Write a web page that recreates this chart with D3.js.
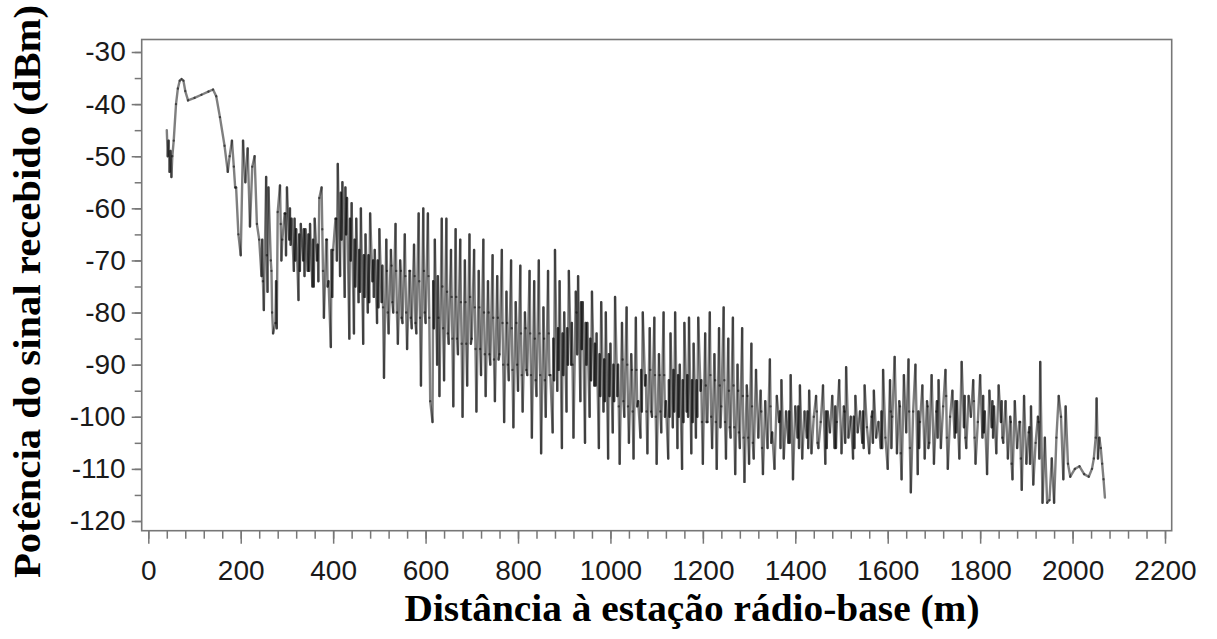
<!DOCTYPE html>
<html>
<head>
<meta charset="utf-8">
<script src="https://cdn.jsdelivr.net/npm/d3@7"></script>
<style>
  body { margin: 0; background: #fff; }
  .tick text { font-family: "Liberation Sans", Arial, sans-serif; fill: #1a1a1a; }
  .tick line { stroke: #777; stroke-width: 1.5; }
</style>
</head>
<body>
<div id="chart"></div>
<script>
// distance (m) and received power (dBm): the spikes
var distancia = [
  40, 42, 44, 46, 48, 50, 52, 55, 60, 64, 68, 72, 76, 80, 86, 100, 115, 130, 140, 147,
  155, 165, 172, 176, 181, 185, 188,
  190, 195, 200, 205, 210, 215, 220, 225, 230, 235,
  240, 245, 250, 255, 260, 265, 270, 275, 280, 285,
  290, 295, 300, 305, 310, 315, 320, 325, 330, 335,
  340, 345, 350, 355, 360, 365, 370, 375, 380, 385,
  390, 395, 400, 405, 410, 415, 420, 425, 430, 435,
  440, 445, 450, 455, 460, 465, 470, 475, 480, 485, 490, 495,
  500, 505, 510, 515, 520, 525, 530, 535, 540, 545, 550, 555, 560, 565, 570, 575,
  580, 585, 590, 595, 600, 605, 610, 615, 620, 625, 630, 635, 640, 645, 650,
  655, 660, 665, 670, 675, 680, 685, 690, 695, 700, 705, 710, 715, 720, 725, 730, 735, 740,
  745, 750, 755, 760, 765, 770, 775, 780, 785, 790, 795, 800, 805, 810, 815, 820, 825,
  830, 835, 840, 845, 850, 855, 860, 865, 870,
  875, 880, 885, 890, 895, 900, 905, 910, 915, 920, 925, 930, 935, 940, 945, 950, 955, 960, 965, 970,
  975, 980, 985, 990, 995, 1000, 1005, 1010, 1015, 1020, 1025, 1030, 1035, 1040, 1045, 1050, 1055, 1060, 1065, 1070, 1075,
  1080, 1085, 1090, 1095, 1100, 1105, 1110, 1115, 1120, 1125, 1130, 1135, 1140, 1145, 1150, 1155, 1160, 1165,
  1170, 1175, 1180, 1185, 1190, 1195, 1200, 1205, 1210, 1215, 1220, 1225, 1230, 1235, 1240, 1245, 1250, 1255,
  1260, 1265, 1270, 1275, 1280, 1285, 1290, 1295, 1300, 1305,
  1310, 1315, 1320, 1325, 1330, 1335, 1340, 1345, 1350, 1355, 1360, 1365, 1370, 1375, 1380, 1385, 1390, 1395, 1400, 1405, 1410, 1415,
  1420, 1425, 1430, 1435, 1440, 1445, 1450, 1455, 1460, 1465, 1470, 1475, 1480, 1485, 1490, 1495, 1500,
  1505, 1510, 1515, 1520, 1525, 1530, 1535, 1540, 1545, 1550, 1555, 1560, 1565, 1570, 1575, 1580, 1585,
  1590, 1595, 1600, 1605, 1610, 1615, 1620, 1625, 1630, 1635, 1640, 1645, 1650, 1655, 1660, 1665, 1670, 1675, 1680, 1685, 1690, 1695, 1700,
  1705, 1710, 1715, 1720, 1725, 1730, 1735, 1740, 1745, 1750, 1755, 1760, 1765, 1770, 1775, 1780,
  1785, 1790, 1795, 1800, 1805, 1810, 1815, 1820, 1825, 1830, 1835, 1840, 1845, 1850, 1855,
  1860, 1865, 1870, 1875, 1880, 1885, 1890, 1895, 1900, 1905, 1910, 1915, 1920, 1925, 1930, 1935, 1940, 1945,
  1950, 1955, 1960, 1965, 1970, 1975, 1980, 1985,
  1990, 1995, 2005, 2015, 2025, 2035, 2042, 2046,
  2050, 2052, 2055, 2058, 2061, 2064, 2067, 2070
];

var potencia = [
  -45, -50, -47, -53, -49, -54, -50, -47, -40, -37, -35.5, -35.2, -35.5, -37.5, -39.3, -38.8, -38.2, -37.6, -37.2, -38.5,
  -42.5, -48, -53, -50, -47, -52, -56,
  -56, -65, -69, -47, -55, -48.5, -63.5, -52, -50, -63,
  -66, -73, -79.5, -54, -56, -70, -84, -82, -60.7, -55.6,
  -66, -61, -56, -66, -62, -72, -64, -77.6, -63, -70,
  -64, -72, -63, -75, -62, -70, -58, -56, -81, -66,
  -74, -86.6, -68, -62, -51.5, -73, -55, -77, -58, -85,
  -59, -84, -62, -78, -60, -86, -65, -80, -61, -74, -68, -82,
  -64, -78, -92.5, -66, -84, -68, -80, -63, -86, -70, -82, -65, -87, -72, -83, -67,
  -84, -61, -94, -60, -82, -61, -97, -101, -66, -90, -96, -62, -93, -62, -86,
  -68, -98, -64, -88, -66, -100, -70, -94, -65, -85, -68, -99, -72, -92, -66, -96, -74, -90,
  -69, -97, -73, -88, -68, -101, -76, -93, -70, -102, -78, -95, -71, -99, -80, -92, -72,
  -104, -74, -96, -70, -107, -79, -100, -72, -92,
  -103, -68, -95, -74, -106, -80, -99, -72, -90, -104, -76, -73, -97, -78, -105, -82, -100, -76, -94, -84,
  -106, -78, -99, -80, -108, -86, -103, -77, -96, -109, -82, -100, -79, -105, -88, -108, -81, -97, -104, -80, -94,
  -107, -83, -100, -81, -109, -88, -103, -80, -97, -108, -84, -102, -80, -106, -90, -110, -82, -99,
  -81, -107, -86, -104, -81, -95, -109, -84, -101, -80, -106, -88, -110, -83, -98, -79, -108, -85,
  -104, -81, -111, -90, -106, -83, -112.5, -94, -109, -86,
  -108, -91, -104, -95, -111, -97, -106, -89, -103, -110, -96, -101, -93, -108, -99, -105, -92, -112, -98, -104, -94, -108,
  -99, -104, -95, -107, -100, -96, -106, -101, -94, -109, -99, -103, -96, -106, -101, -93, -107,
  -98, -90.5, -104, -100, -108, -96, -103, -99, -105, -94, -102, -107, -100, -95, -104, -101, -106,
  -91, -104, -110, -93, -100, -88.5, -107, -97, -112, -92, -103, -89, -114.5, -99, -90, -111, -101, -94, -108, -97, -105, -92, -109,
  -99, -93, -106, -98, -91, -110, -100, -95, -104, -97, -108, -89.5, -102, -106, -96, -100,
  -93, -109, -101, -92, -104, -99, -111, -95, -102, -98, -107, -94, -101, -105, -97,
  -108, -100, -112, -97, -106, -101, -114, -96, -109, -103, -98, -113, -105, -100, -89.5, -116.5, -104, -116.5,
  -116, -108, -116.5, -104, -96, -100, -112, -98,
  -109, -111.5, -110, -109.5, -111, -111.5, -110, -108,
  -104, -96.5, -108, -104, -106, -109, -112, -115.5
];

// the small fast wiggles that make the dark core of the trace
var distNucleo = [
  246.5, 248, 256.5, 258, 266.5, 268, 276.5, 278, 286.5, 288,
  296.5, 298, 306.5, 308, 316.5, 318, 326.5, 328, 336.5, 338,
  346.5, 348, 356.5, 358, 366.5, 368, 376.5, 378, 386.5, 388,
  396.5, 398, 406.5, 408, 416.5, 418, 426.5, 428, 436.5, 438,
  446.5, 448, 456.5, 458, 466.5, 468, 476.5, 478, 486.5, 488, 496.5, 498,
  506.5, 508, 516.5, 518, 526.5, 528, 536.5, 538, 546.5, 548, 556.5, 558, 566.5, 568, 576.5, 578,
  586.5, 588, 596.5, 598, 606.5, 608, 616.5, 618, 626.5, 628, 636.5, 638, 646.5, 648,
  656.5, 658, 666.5, 668, 676.5, 678, 686.5, 688, 696.5, 698, 706.5, 708, 716.5, 718, 726.5, 728, 736.5, 738,
  746.5, 748, 756.5, 758, 766.5, 768, 776.5, 778, 786.5, 788, 796.5, 798, 806.5, 808, 816.5, 818, 826.5, 828,
  836.5, 838, 846.5, 848, 856.5, 858, 866.5, 868, 876.5, 878, 886.5, 888, 896.5, 898, 906.5, 908,
  916.5, 918, 926.5, 928, 936.5, 938, 946.5, 948, 956.5, 958, 966.5, 968,
  976.5, 978, 986.5, 988, 996.5, 998, 1006.5, 1008, 1016.5, 1018, 1026.5, 1028, 1036.5, 1038,
  1046.5, 1048, 1056.5, 1058, 1066.5, 1068, 1076.5, 1078,
  1086.5, 1088, 1096.5, 1098, 1106.5, 1108, 1116.5, 1118, 1126.5, 1128, 1136.5, 1138, 1146.5, 1148,
  1156.5, 1158, 1166.5, 1168, 1176.5, 1178, 1186.5, 1188, 1196.5, 1198, 1206.5, 1208, 1216.5, 1218,
  1226.5, 1228, 1236.5, 1238, 1246.5, 1248, 1256.5, 1258, 1266.5, 1268, 1276.5, 1278, 1286.5, 1288, 1296.5, 1298,
  1306.5, 1308, 1326.5, 1328, 1346.5, 1348, 1366.5, 1368, 1386.5, 1388, 1406.5, 1408,
  1426.5, 1428, 1446.5, 1448, 1466.5, 1468, 1486.5, 1488, 1506.5, 1508, 1526.5, 1528, 1546.5, 1548, 1566.5, 1568, 1586.5, 1588,
  1606.5, 1608, 1626.5, 1628, 1646.5, 1648, 1666.5, 1668, 1686.5, 1688, 1706.5, 1708,
  1726.5, 1728, 1746.5, 1748, 1766.5, 1768, 1786.5, 1788, 1806.5, 1808, 1826.5, 1828, 1846.5, 1848,
  1866.5, 1868, 1886.5, 1888, 1906.5, 1908, 1926.5, 1928
];

var potNucleo = [
  -66, -74, -69, -76, -72, -80, -74, -83, -63, -70,
  -61, -69, -60, -67, -62, -70, -65, -72, -64, -73,
  -65, -72, -66, -75, -67, -74, -64, -72, -66, -75,
  -68, -77, -62, -70, -57, -66, -56, -65, -62, -70,
  -66, -75, -68, -76, -69, -77, -69, -78, -70, -77, -70, -79,
  -71, -79, -72, -80, -71, -78, -72, -80, -72, -81, -73, -80, -72, -81, -73, -82,
  -74, -81, -72, -80, -73, -81, -74, -83, -73, -81, -75, -83, -76, -84,
  -77, -85, -77, -85, -78, -86, -78, -86, -77, -86, -79, -87, -79, -87, -80, -88, -80, -88,
  -81, -89, -81, -89, -82, -90, -82, -90, -83, -91, -82, -90, -84, -92, -83, -91, -84, -92,
  -85, -93, -84, -92, -85, -93, -84, -92, -85, -93, -83, -91, -84, -92, -83, -90,
  -82, -90, -80, -88, -78, -87, -82, -90, -85, -93, -86, -94,
  -88, -96, -89, -97, -88, -96, -90, -97, -90, -98, -89, -97, -90, -98,
  -91, -99, -91, -98, -91, -99, -92, -99,
  -91, -99, -92, -100, -92, -99, -92, -100, -93, -100, -91, -99, -92, -100,
  -93, -101, -92, -100, -93, -101, -93, -100, -93, -101, -94, -101, -92, -100,
  -93, -101, -94, -102, -93, -101, -95, -102, -94, -102, -95, -103, -96, -104, -96, -104,
  -98, -105, -99, -106, -98, -105, -99, -106, -99, -105, -98, -106,
  -99, -106, -99, -105, -99, -106, -98, -106, -99, -105, -100, -106, -99, -106, -99, -105, -99, -106,
  -99, -106, -98, -107, -99, -106, -99, -106, -98, -106, -97, -104,
  -96, -104, -97, -103, -96, -104, -97, -104, -96, -103, -97, -104, -97, -104,
  -101, -109, -101, -108, -102, -109, -101, -108
];

var xTicks = [0, 200, 400, 600, 800, 1000, 1200, 1400, 1600, 1800, 2000, 2200];
var yTicks = [-120, -110, -100, -90, -80, -70, -60, -50, -40, -30];

var W = 1217, H = 639;
var frame = { left: 141.7, right: 1171.7, top: 39.5, bottom: 530.7 };

var svg = d3.select("#chart").append("svg")
  .attr("width", W).attr("height", H);

var x = d3.scaleLinear().domain([0, 2200]).range([148.3, 1165]);
var y = d3.scaleLinear().domain([-120, -30]).range([521, 52]);

var dados = distancia.map(function(d, i) { return [d, potencia[i]]; })
  .concat(distNucleo.map(function(d, i) { return [d, potNucleo[i]]; }))
  .sort(function(a, b) { return a[0] - b[0]; });

// minor ticks
svg.append("g")
  .attr("transform", "translate(0," + frame.bottom + ")")
  .call(d3.axisBottom(x).tickValues(d3.range(0, 2201, 40)).tickSize(8).tickFormat(""))
  .call(function(g) { g.select(".domain").remove(); });
svg.append("g")
  .attr("transform", "translate(" + frame.left + ",0)")
  .call(d3.axisLeft(y).tickValues(d3.range(-120, -29, 5)).tickSize(7).tickFormat(""))
  .call(function(g) { g.select(".domain").remove(); });

// major ticks
var xAxis = svg.append("g")
  .attr("transform", "translate(0," + frame.bottom + ")")
  .call(d3.axisBottom(x).tickValues(xTicks).tickSize(13).tickPadding(16).tickFormat(function(d) { return String(d); }));
xAxis.select(".domain").remove();
xAxis.selectAll("text").attr("font-size", 28);

var yAxis = svg.append("g")
  .attr("transform", "translate(" + frame.left + ",0)")
  .call(d3.axisLeft(y).tickValues(yTicks).tickSize(10).tickPadding(6).tickFormat(function(d) { return String(d); }));
yAxis.select(".domain").remove();
yAxis.selectAll("text").attr("font-size", 28);

// frame
svg.append("rect")
  .attr("x", frame.left).attr("y", frame.top)
  .attr("width", frame.right - frame.left).attr("height", frame.bottom - frame.top)
  .attr("fill", "none").attr("stroke", "#777").attr("stroke-width", 1.6);

// each step drawn on its own so dense parts darken like the original trace
var segmentos = d3.pairs(dados);
svg.append("g")
  .selectAll("line")
  .data(segmentos)
  .join("line")
  .attr("x1", function(d) { return x(d[0][0]); })
  .attr("y1", function(d) { return y(d[0][1]); })
  .attr("x2", function(d) { return x(d[1][0]); })
  .attr("y2", function(d) { return y(d[1][1]); })
  .attr("stroke", "#000")
  .attr("stroke-opacity", 0.5)
  .attr("stroke-width", 2.4)
  .attr("stroke-linecap", "round");

// axis titles
svg.append("text")
  .attr("x", 692).attr("y", 621)
  .attr("text-anchor", "middle")
  .attr("font-family", "'Liberation Serif', 'Times New Roman', serif")
  .attr("font-weight", "bold")
  .attr("font-size", 37)
  .attr("textLength", 575)
  .attr("lengthAdjust", "spacingAndGlyphs")
  .text("Distância à estação rádio-base (m)");

svg.append("text")
  .attr("transform", "translate(40,291.5) rotate(-90)")
  .attr("text-anchor", "middle")
  .attr("font-family", "'Liberation Serif', 'Times New Roman', serif")
  .attr("font-weight", "bold")
  .attr("font-size", 37)
  .attr("textLength", 573)
  .attr("lengthAdjust", "spacingAndGlyphs")
  .text("Potência do sinal recebido (dBm)");
</script>
</body>
</html>
